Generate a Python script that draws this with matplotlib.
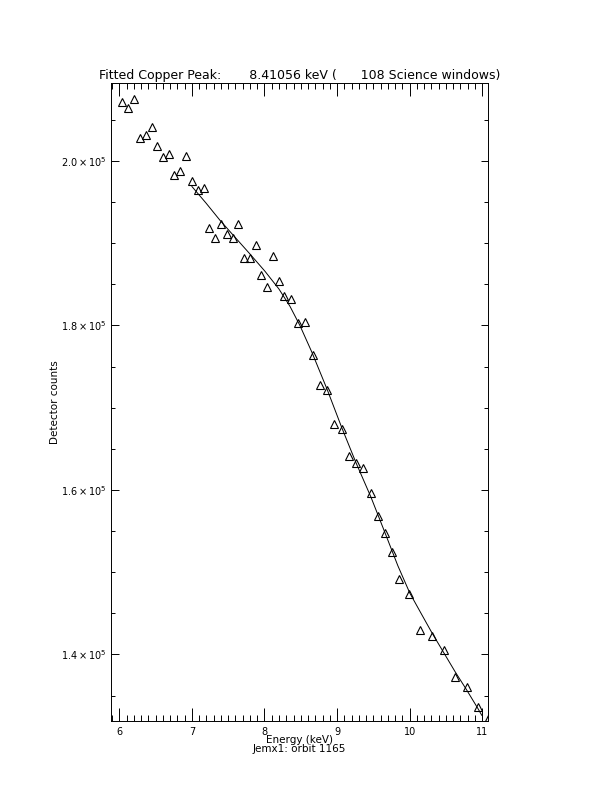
import matplotlib
matplotlib.use("Agg")
import matplotlib.pyplot as plt
from matplotlib.ticker import MultipleLocator, FixedLocator

plt.rcParams['font.family'] = ['DejaVu Sans']

# measured spectrum (keV, counts)
energy = [6.040, 6.123, 6.205, 6.284, 6.362, 6.445, 6.522, 6.596, 6.679, 6.756,
          6.839, 6.921, 6.996, 7.079, 7.161, 7.238, 7.317, 7.395, 7.478, 7.561,
          7.638, 7.716, 7.799, 7.877, 7.955, 8.033, 8.112, 8.198, 8.271, 8.364,
          8.464, 8.561, 8.663, 8.763, 8.860, 8.960, 9.062, 9.163, 9.259, 9.360,
          9.461, 9.562, 9.663, 9.759, 9.860, 9.985, 10.145, 10.306, 10.467, 10.627,
          10.784, 10.943, 11.095]
counts = [207200, 206400, 207550, 202850, 203150, 204150, 201850, 200500, 200800, 198300,
          198800, 200600, 197550, 196450, 196750, 191800, 190650, 192400, 191100, 190650,
          192400, 188150, 188150, 189800, 186150, 184650, 188450, 185400, 183600, 183200,
          180250, 180450, 176400, 172750, 172150, 168000, 167400, 164150, 163250, 162650,
          159600, 156850, 154800, 152500, 149150, 147350, 142950, 142250, 140500, 137300,
          136050, 133650, 132450]

# fitted curve
fit_energy = [7.000, 7.193, 7.386, 7.592, 7.799, 8.006, 8.198, 8.350, 8.488, 8.653,
              8.860, 9.066, 9.259, 9.466, 9.658, 9.837, 10.003, 10.154, 10.306, 10.471,
              10.623, 10.788, 10.939, 10.994]
fit_counts = [196900, 194900, 192800, 190750, 188700, 186600, 184450, 182350, 180000, 176750,
              172300, 167550, 163350, 159150, 154850, 150800, 147450, 145050, 142650, 140200,
              137950, 135650, 133450, 132600]

ytick_vals = [140000, 160000, 180000, 200000]
ytick_labels = [r'$1.4\times10^{5}$', r'$1.6\times10^{5}$', r'$1.8\times10^{5}$', r'$2.0\times10^{5}$']

fig = plt.figure(figsize=(6.12, 7.92), dpi=100)
ax = fig.add_axes([0.1814, 0.0896, 0.6160, 0.8052])

ax.plot(energy, counts, linestyle='none', marker='^', markersize=5.2,
        markerfacecolor='none', markeredgecolor='k', markeredgewidth=0.8)
ax.plot(fit_energy, fit_counts, color='k', linewidth=0.7)

ax.set_xlim(5.885, 11.08)
ax.set_ylim(131900, 209450)

ax.xaxis.set_major_locator(MultipleLocator(1))
ax.xaxis.set_minor_locator(MultipleLocator(0.1))
ax.yaxis.set_major_locator(FixedLocator(ytick_vals))
ax.yaxis.set_minor_locator(MultipleLocator(5000))
ax.set_yticklabels(ytick_labels)

ax.tick_params(which='both', direction='in', top=True, right=True, width=0.7, labelsize=7)
ax.tick_params(axis='x', which='major', length=9.2, pad=4)
ax.tick_params(axis='x', which='minor', length=4.6)
ax.tick_params(axis='y', which='major', length=5.4, pad=3)
ax.tick_params(axis='y', which='minor', length=2.7)
for s in ax.spines.values():
    s.set_linewidth(0.7)

ax.set_title("Fitted Copper Peak:       8.41056 keV (      108 Science windows)",
             fontsize=9, pad=3)
ax.set_xlabel("Energy (keV)\nJemx1: orbit 1165", fontsize=7.5, labelpad=-1, linespacing=0.85)
ax.set_ylabel("Detector counts", fontsize=7.5)
ax.yaxis.set_label_coords(-0.135, 0.5)

fig.savefig("out.png", dpi=100)
